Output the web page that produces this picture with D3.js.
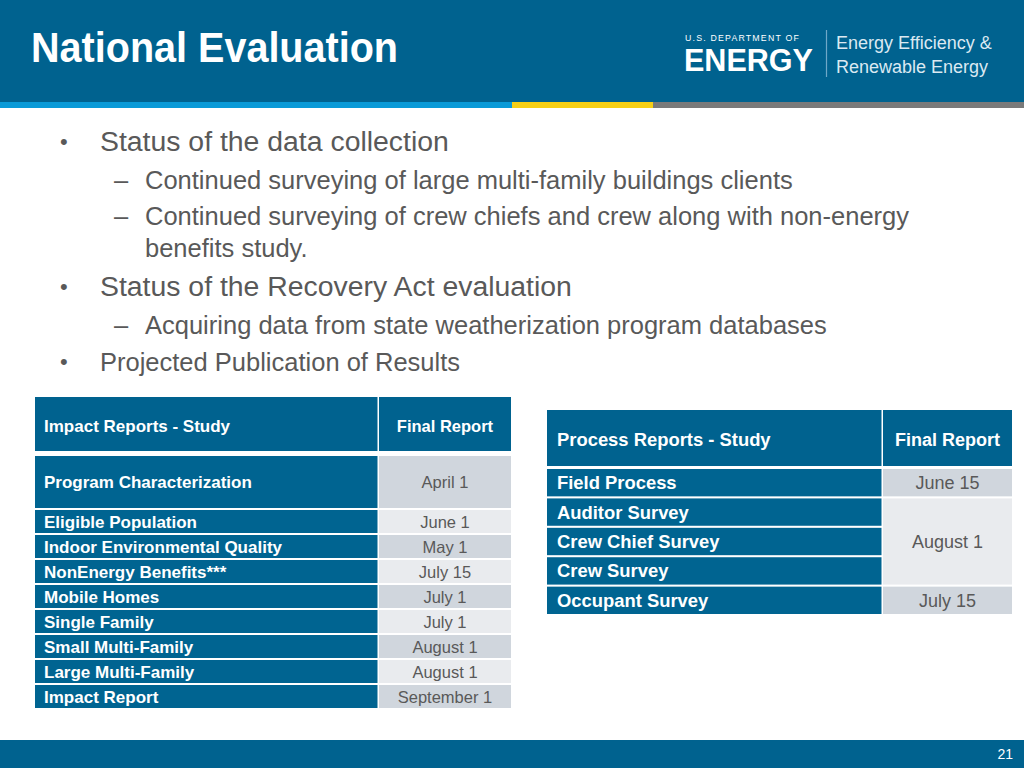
<!DOCTYPE html>
<html>
<head>
<meta charset="utf-8">
<script src="https://cdn.jsdelivr.net/npm/d3@7"></script>
<style>
  html, body { margin: 0; padding: 0; background: #fff; }
  svg { display: block; font-family: "Liberation Sans", Arial, Helvetica, sans-serif; }
</style>
</head>
<body>
<svg id="slide" width="1024" height="768"></svg>
<script>
// ---------- data ----------
const slideTitle = "National Evaluation";
const bulletLevels = [1, 2, 2, 1, 2, 1];
const bulletTexts = [
  "Status of the data collection",
  "Continued surveying of large multi-family buildings clients",
  "Continued surveying of crew chiefs and crew along with non-energy|benefits study.",
  "Status of the Recovery Act evaluation",
  "Acquiring data from state weatherization program databases",
  "Projected Publication of Results"
];
const impactHeader = ["Impact Reports - Study", "Final Report"];
const impactStudies = ["Program Characterization", "Eligible Population", "Indoor Environmental Quality",
  "NonEnergy Benefits***", "Mobile Homes", "Single Family", "Small Multi-Family", "Large Multi-Family", "Impact Report"];
const impactDates = ["April 1", "June 1", "May 1", "July 15", "July 1", "July 1", "August 1", "August 1", "September 1"];
const processHeader = ["Process Reports - Study", "Final Report"];
const processStudies = ["Field Process", "Auditor Survey", "Crew Chief Survey", "Crew Survey", "Occupant Survey"];
const processDates = ["June 15", "August 1", "August 1", "August 1", "July 15"];
const pageNumber = "21";

// ---------- style ----------
const BLUE = "#00628f";
const CELL_BLUE = "#006491";
const GRAY_DARK = "#d0d6dd";
const GRAY_LIGHT = "#e9ebee";
const TEXT_GRAY = "#595959";

const svg = d3.select("#slide");

// header band
svg.append("rect").attr("x", 0).attr("y", 0).attr("width", 1024).attr("height", 102).attr("fill", BLUE);
const stripe = [["#0a9ad7", 0, 512], ["#f6cf16", 512, 653], ["#7a7a7a", 653, 1024]];
svg.selectAll("rect.stripe").data(stripe).join("rect").attr("class", "stripe")
  .attr("x", d => d[1]).attr("y", 102).attr("width", d => d[2] - d[1]).attr("height", 6).attr("fill", d => d[0]);

svg.append("text").attr("x", 31).attr("y", 62).attr("fill", "#fff")
  .attr("font-size", 42).attr("font-weight", "bold").attr("textLength", 367).attr("lengthAdjust", "spacingAndGlyphs")
  .text(slideTitle);

// logo
svg.append("text").attr("x", 685).attr("y", 40.5).attr("fill", "#fff").attr("font-size", 9.5)
  .attr("letter-spacing", 1.3).attr("textLength", 115).attr("lengthAdjust", "spacingAndGlyphs").text("U.S. DEPARTMENT OF");
svg.append("text").attr("x", 684).attr("y", 71).attr("fill", "#fff").attr("font-size", 31).attr("font-weight", "bold")
  .attr("textLength", 129).attr("lengthAdjust", "spacingAndGlyphs").text("ENERGY");
svg.append("line").attr("x1", 826.5).attr("x2", 826.5).attr("y1", 30).attr("y2", 77)
  .attr("stroke", "#6fa8c8").attr("stroke-width", 1.2);
svg.append("text").attr("x", 836).attr("y", 49).attr("fill", "#dbe9f2").attr("font-size", 18).text("Energy Efficiency &");
svg.append("text").attr("x", 836).attr("y", 73).attr("fill", "#dbe9f2").attr("font-size", 18).text("Renewable Energy");

// footer
svg.append("rect").attr("x", 0).attr("y", 740).attr("width", 1024).attr("height", 28).attr("fill", BLUE);
svg.append("text").attr("x", 1013).attr("y", 759).attr("text-anchor", "end").attr("fill", "#fff")
  .attr("font-size", 14).text(pageNumber);

// ---------- bullets ----------
const bulletBaselines = [151, 189, 225, 296, 334, 371];
const bulletSizes = [28.4, 25.5, 25.5, 28.4, 25.5, 25.5];
bulletTexts.forEach((t, i) => {
  const lvl = bulletLevels[i];
  const y = bulletBaselines[i];
  const fs = bulletSizes[i];
  const g = svg.append("g").attr("fill", TEXT_GRAY);
  if (lvl === 1) {
    g.append("text").attr("x", 60).attr("y", y - 2).attr("font-size", 22).text("•");
  } else {
    g.append("text").attr("x", 114).attr("y", y).attr("font-size", fs).text("–");
  }
  const tx = lvl === 1 ? 100 : 145;
  t.split("|").forEach((line, k) => {
    g.append("text").attr("x", tx).attr("y", y + k * 32).attr("font-size", fs).text(line);
  });
});

// ---------- table helper ----------
function cell(g, x, y, w, h, fill) {
  g.append("rect").attr("x", x).attr("y", y).attr("width", w).attr("height", h).attr("fill", fill);
}

// ---------- impact table ----------
{
  const g = svg.append("g");
  const x0 = 35, xs = 379, x1 = 511;
  const fs = 17, dfs = 16.5;
  // header
  cell(g, x0, 397, xs - x0 - 1.5, 54, BLUE);
  cell(g, xs, 397, x1 - xs, 54, BLUE);
  g.append("text").attr("x", x0 + 9).attr("y", 432).attr("fill", "#fff").attr("font-weight", "bold")
    .attr("font-size", 17).text(impactHeader[0]);
  g.append("text").attr("x", (xs + x1) / 2).attr("y", 432).attr("text-anchor", "middle").attr("fill", "#fff")
    .attr("font-weight", "bold").attr("font-size", 16.5).text(impactHeader[1]);

  // first (tall) row
  cell(g, x0, 456, xs - x0 - 1.5, 52, CELL_BLUE);
  cell(g, xs, 456, x1 - xs, 52, GRAY_DARK);
  g.append("text").attr("x", x0 + 9).attr("y", 488).attr("fill", "#fff").attr("font-weight", "bold")
    .attr("font-size", fs).text(impactStudies[0]);
  g.append("text").attr("x", (xs + x1) / 2).attr("y", 488).attr("text-anchor", "middle").attr("fill", TEXT_GRAY)
    .attr("font-size", dfs).text(impactDates[0]);

  // remaining rows
  const rows = impactStudies.slice(1).map((s, i) => ({ s, d: impactDates[i + 1], i }));
  const y = d3.scaleBand().domain(rows.map(r => r.s)).range([510, 708]).paddingInner(0.08);
  const rg = g.selectAll("g.irow").data(rows).join("g").attr("class", "irow");
  rg.append("rect").attr("x", x0).attr("y", d => y(d.s)).attr("width", xs - x0 - 1.5).attr("height", y.bandwidth()).attr("fill", CELL_BLUE);
  rg.append("rect").attr("x", xs).attr("y", d => y(d.s)).attr("width", x1 - xs).attr("height", y.bandwidth())
    .attr("fill", d => d.i % 2 === 0 ? GRAY_LIGHT : GRAY_DARK);
  rg.append("text").attr("x", x0 + 9).attr("y", d => y(d.s) + y.bandwidth() / 2 + 6).attr("fill", "#fff")
    .attr("font-weight", "bold").attr("font-size", fs).text(d => d.s);
  rg.append("text").attr("x", (xs + x1) / 2).attr("y", d => y(d.s) + y.bandwidth() / 2 + 6).attr("text-anchor", "middle")
    .attr("fill", TEXT_GRAY).attr("font-size", dfs).text(d => d.d);
}

// ---------- process table ----------
{
  const g = svg.append("g");
  const x0 = 547, xs = 883, x1 = 1012;
  const fs = 18.4;
  cell(g, x0, 410, xs - x0 - 1.5, 56, BLUE);
  cell(g, xs, 410, x1 - xs, 56, BLUE);
  g.append("text").attr("x", x0 + 10).attr("y", 446).attr("fill", "#fff").attr("font-weight", "bold")
    .attr("font-size", fs).text(processHeader[0]);
  g.append("text").attr("x", (xs + x1) / 2).attr("y", 446).attr("text-anchor", "middle").attr("fill", "#fff")
    .attr("font-weight", "bold").attr("font-size", 18).text(processHeader[1]);

  const y = d3.scaleBand().domain(processStudies).range([469, 614]).paddingInner(0.07);
  const rows = processStudies.map((s, i) => ({ s, i }));
  const rg = g.selectAll("g.prow").data(rows).join("g").attr("class", "prow");
  rg.append("rect").attr("x", x0).attr("y", d => y(d.s)).attr("width", xs - x0 - 1.5).attr("height", y.bandwidth()).attr("fill", CELL_BLUE);
  rg.append("text").attr("x", x0 + 10).attr("y", d => y(d.s) + y.bandwidth() / 2 + 6.5).attr("fill", "#fff")
    .attr("font-weight", "bold").attr("font-size", fs).text(d => d.s);

  // merge consecutive equal dates
  const groups = [];
  processDates.forEach((d, i) => {
    const last = groups[groups.length - 1];
    if (last && last.d === d) last.end = i; else groups.push({ d, start: i, end: i });
  });
  groups.forEach(gr => {
    const top = y(processStudies[gr.start]);
    const bot = y(processStudies[gr.end]) + y.bandwidth();
    const fill = gr.end > gr.start ? GRAY_LIGHT : GRAY_DARK;
    cell(g, xs, top, x1 - xs, bot - top, fill);
    g.append("text").attr("x", (xs + x1) / 2).attr("y", (top + bot) / 2 + 6.5).attr("text-anchor", "middle")
      .attr("fill", TEXT_GRAY).attr("font-size", 18).text(gr.d);
  });
}
</script>
</body>
</html>
